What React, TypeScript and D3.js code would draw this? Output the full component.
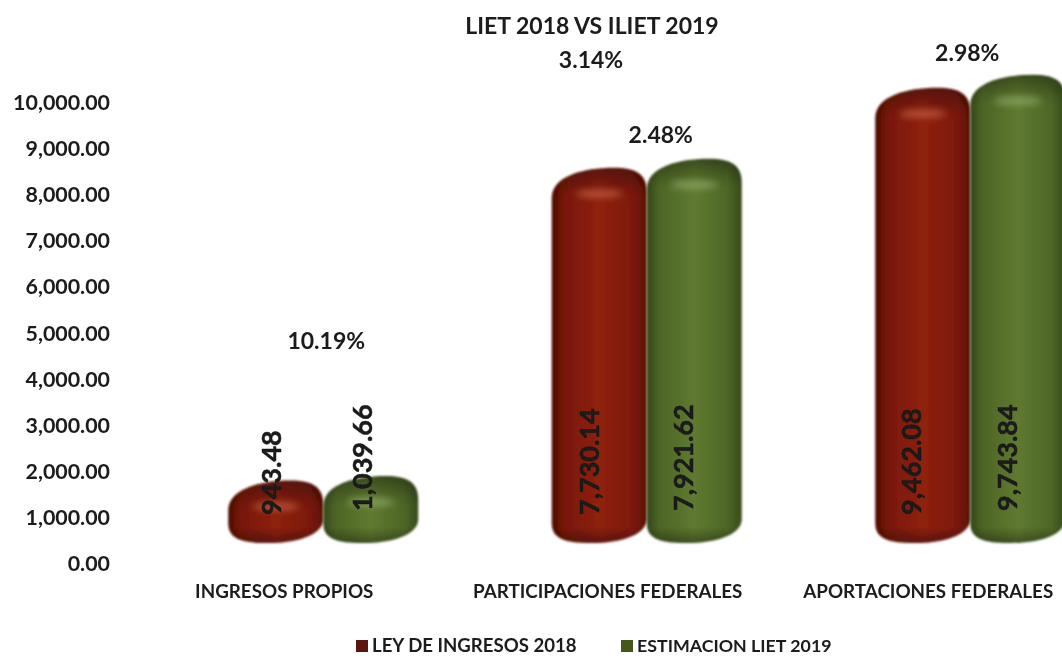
import * as d3 from "d3";

const categories = ["INGRESOS PROPIOS", "PARTICIPACIONES FEDERALES", "APORTACIONES FEDERALES"];
const ley2018 = [943.48, 7730.14, 9462.08];
const liet2019 = [1039.66, 7921.62, 9743.84];
const growth = ["10.19%", "2.48%", "2.98%"];
const totalGrowth = "3.14%";
const title = "LIET 2018 VS ILIET 2019";
const seriesNames = ["LEY DE INGRESOS 2018", "ESTIMACION LIET 2019"];
const yTicks = [0, 1000, 2000, 3000, 4000, 5000, 6000, 7000, 8000, 9000, 10000];

const WIDTH = 1062;
const HEIGHT = 656;
const BAR_W = 95;
const FONT = "Lato, 'Open Sans', sans-serif";
const INK = "#1a1a1a";

const y = d3.scaleLinear().domain([0, 10000]).range([564, 103]);
const x = d3.scaleBand<string>().domain(categories).range([161.5, 1132]).padding(0);
const fmt = d3.format(",.2f");

// the 3D look lifts the cylinder tops 40px above the axis value, floor sits 21px above zero
const CAP_LIFT = 40;
const FLOOR = y(0) - 21;

function cylinder(left: number, top: number) {
  const w = BAR_W;
  const p = d3.path();
  p.moveTo(left, Math.min(top + 30, FLOOR - 26));
  p.bezierCurveTo(left, top + 8, left + w * 0.35, top, left + w * 0.65, top);
  p.bezierCurveTo(left + w * 0.88, top, left + w, top + 6, left + w, top + 24);
  p.lineTo(left + w, FLOOR - 24);
  p.bezierCurveTo(left + w, FLOOR - 8, left + w * 0.72, FLOOR, left + w * 0.42, FLOOR);
  p.bezierCurveTo(left + w * 0.14, FLOOR, left, FLOOR - 4, left, FLOOR - 20);
  p.closePath();
  return p.toString();
}

function Bar({ left, value, kind }: { left: number; value: number; kind: "red" | "green" }) {
  const top = y(value) - CAP_LIFT;
  const clip = `clip-${kind}-${Math.round(left)}`;
  const light = kind === "red" ? "#d9785f" : "#a3bd7c";
  return (
    <g filter="url(#soft)">
      <clipPath id={clip}>
        <path d={cylinder(left, top)} />
      </clipPath>
      <path d={cylinder(left, top)} fill={`url(#body-${kind})`} />
      <g clipPath={`url(#${clip})`}>
        <rect x={left} y={top} width={BAR_W} height={30} fill="url(#capShade)" />
        <ellipse cx={left + BAR_W * 0.5} cy={top + 26} rx={24} ry={3.5} fill={light} opacity={0.65} filter="url(#glow)" />
        <rect x={left} y={FLOOR - 16} width={BAR_W} height={16} fill="url(#footShade)" />
      </g>
    </g>
  );
}

export default function App() {
  const groupX = (c: string) => (x(c) as number) + x.bandwidth() / 2;
  const greenTops = liet2019.map((v) => y(v) - CAP_LIFT);
  // label offsets, read per group from the picture
  const pctLift = [135, 24, 22];
  const pctShift = [3, 14, -3];
  const labelShift = [-39, -39, -42];
  const redBaseline = [-42, -48, -49];
  const greenBaseline = [49, 46, 47];

  return (
    <svg width={WIDTH} height={HEIGHT} style={{ position: "fixed", left: 0, top: 0, background: "#fff" }} fontFamily={FONT} fontWeight={700}>
      <defs>
        <linearGradient id="body-red" x1="0" x2="1" y1="0" y2="0">
          <stop offset="0" stopColor="#4d0d04" />
          <stop offset="0.13" stopColor="#781707" />
          <stop offset="0.5" stopColor="#8f210d" />
          <stop offset="0.85" stopColor="#7d190a" />
          <stop offset="1" stopColor="#5a1005" />
        </linearGradient>
        <linearGradient id="body-green" x1="0" x2="1" y1="0" y2="0">
          <stop offset="0" stopColor="#33481a" />
          <stop offset="0.13" stopColor="#4d6526" />
          <stop offset="0.5" stopColor="#5f7a30" />
          <stop offset="0.85" stopColor="#4e6727" />
          <stop offset="1" stopColor="#364b1b" />
        </linearGradient>
        <linearGradient id="capShade" x1="0" x2="0" y1="0" y2="1">
          <stop offset="0" stopColor="#000" stopOpacity={0.38} />
          <stop offset="0.7" stopColor="#000" stopOpacity={0.08} />
          <stop offset="1" stopColor="#000" stopOpacity={0} />
        </linearGradient>
        <linearGradient id="footShade" x1="0" x2="0" y1="0" y2="1">
          <stop offset="0" stopColor="#000" stopOpacity={0} />
          <stop offset="1" stopColor="#000" stopOpacity={0.35} />
        </linearGradient>
        <filter id="soft" x="-5%" y="-5%" width="110%" height="110%">
          <feGaussianBlur stdDeviation="0.8" />
        </filter>
        <filter id="glow" x="-50%" y="-150%" width="200%" height="400%">
          <feGaussianBlur stdDeviation="3.5" />
        </filter>
        <filter id="textSoft">
          <feGaussianBlur stdDeviation="0.4" />
        </filter>
      </defs>

      {categories.map((c, i) => (
        <g key={c}>
          <Bar left={groupX(c) - BAR_W} value={ley2018[i]} kind="red" />
          <Bar left={groupX(c)} value={liet2019[i]} kind="green" />
        </g>
      ))}

      <g filter="url(#textSoft)" fill={INK}>
        <text x={592} y={34} textAnchor="middle" fontSize={23}>{title}</text>
        <text x={591} y={68} textAnchor="middle" fontSize={23}>{totalGrowth}</text>

        {yTicks.map((t) => (
          <text key={t} x={110} y={y(t) + 7} textAnchor="end" fontSize={21.4}>{fmt(t)}</text>
        ))}

        {categories.map((c, i) => (
          <text key={c} x={groupX(c) + labelShift[i]} y={598} textAnchor="middle" fontSize={18.8}>{c}</text>
        ))}

        {categories.map((c, i) => (
          <text key={c} x={groupX(c) + pctShift[i]} y={greenTops[i] - pctLift[i] + 8} textAnchor="middle" fontSize={23}>{growth[i]}</text>
        ))}

        {categories.map((c, i) => (
          <g key={c} fontSize={27} stroke={INK} strokeWidth={0.5}>
            <text transform={`translate(${groupX(c) + redBaseline[i]},515) rotate(-90)`}>{fmt(ley2018[i])}</text>
            <text transform={`translate(${groupX(c) + greenBaseline[i]},511) rotate(-90)`}>{fmt(liet2019[i])}</text>
          </g>
        ))}

        <rect x={356} y={640} width={12} height={12} fill="#5a1208" />
        <text x={372} y={651.5} fontSize={18.6}>{seriesNames[0]}</text>
        <rect x={621} y={640} width={12} height={12} fill="#44591f" />
        <text x={637} y={651.5} fontSize={17.8}>{seriesNames[1]}</text>
      </g>
    </svg>
  );
}
